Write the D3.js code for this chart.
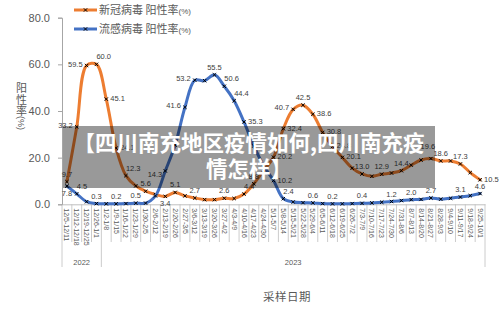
<!DOCTYPE html>
<html>
<head>
<meta charset="utf-8">
<script src="https://cdn.jsdelivr.net/npm/d3@7"></script>
<style>
body { margin: 0; background: #fff; }
svg { display: block; }
</style>
</head>
<body>
<script>
// weekly sampling periods (x categories)
var weeks = ['12/5-12/11', '12/12-12/18', '12/19-12/25', '12/26-1/1',
  '1/2-1/8', '1/9-1/15', '1/16-1/22', '1/23-1/29', '1/30-2/5',
  '2/6-2/12', '2/13-2/19', '2/20-2/26', '2/27-3/5',
  '3/6-3/12', '3/13-3/19', '3/20-3/26', '3/27-4/2',
  '4/3-4/9', '4/10-4/16', '4/17-4/23', '4/24-4/30',
  '5/1-5/7', '5/8-5/14', '5/15-5/21', '5/22-5/28', '5/29-6/4',
  '6/5-6/11', '6/12-6/18', '6/19-6/25', '6/26-7/2',
  '7/3-7/9', '7/10-7/16', '7/17-7/23', '7/24-7/30', '7/31-8/6',
  '8/7-8/13', '8/14-8/20', '8/21-8/27', '8/28-9/3',
  '9/4-9/10', '9/11-9/17', '9/18-9/24', '9/25-10/1'];
var years = ['2022', '2023'];
var yearWeeks = [4, 39];  // how many weeks fall under each year label

// positive rate (%)
var covid = [9.7, 33.2, 59.5, 60.0, 45.1, 24.1, 12.3, 7.9, 5.6, 4.2, 3.4, 5.1, 3.6, 2.7, 2.0, 2.0, 2.6, 2.5, 4.4, 8.8, 14.5,
  20.2, 32.4, 40.7, 42.5, 38.6, 30.8, 24.8, 20.1, 15.5, 13.0, 12.0, 12.9, 13.4, 14.4, 16.8, 19.0, 19.6, 18.6, 18.6, 17.3, 13.6, 10.5];
var flu = [7.8, 4.5, 1.1, 0.3, 0.2, 0.2, 0.3, 0.5, 0.5, 3.6, 14.3, 25.4, 41.6, 53.2, 53.0, 55.5, 50.6, 44.4, 35.3, 25.0, 16.5,
  10.2, 2.4, 1.0, 0.7, 0.6, 0.3, 0.2, 0.2, 0.3, 0.4, 0.6, 0.9, 1.2, 1.6, 2.0, 2.1, 2.7, 2.2, 2.6, 3.1, 3.7, 4.6];
var yTicks = [0, 20, 40, 60, 80];

// which points carry a value label, and on which side it sits
var covidLabels = {0: 'a', 1: 'l', 2: 'l', 3: 'ar', 4: 'r', 5: 'r', 6: 'ar', 8: 'a', 10: 'b', 11: 'a', 13: 'a', 16: 'a',
  18: 'ar', 19: 'a', 21: 'r', 22: 'r', 23: 'l', 24: 'a', 25: 'r', 26: 'r', 27: 'r', 28: 'r', 30: 'a', 32: 'a',
  34: 'a', 37: 'hi', 38: 'a', 40: 'a', 42: 'r'};
var fluLabels = {0: 'b', 1: 'ar', 3: 'a', 5: 'a', 7: 'a', 10: 'lb', 12: 'l', 13: 'l', 15: 'a', 16: 'ar', 17: 'ar', 18: 'r',
  21: 'r', 22: 'ar', 25: 'a', 27: 'a', 30: 'a', 33: 'a', 35: 'a', 37: 'a', 40: 'a', 42: 'a'};

var w = 500, h = 315;
var orange = '#ED7D31', blue = '#4472C4', grey = '#595959';
var latin = '"Liberation Sans", Arial, sans-serif';
var cjk = '"Noto Sans CJK SC", sans-serif';

var svg = d3.select('body').append('svg')
  .attr('width', w)
  .attr('height', h);

var x = d3.scaleBand().domain(weeks).range([62, 485]);
var y = d3.scaleLinear().domain([0, 80]).range([204.3, 17.7]);
var cx = function(i) { return x(weeks[i]) + x.bandwidth() / 2; };

// category separators under the axis, longer ones at year boundaries
var yearEdges = [0];
yearWeeks.forEach(function(n, k) { yearEdges.push(yearEdges[k] + n); });
svg.append('g').selectAll('line')
  .data(d3.range(weeks.length + 1))
  .enter().append('line')
  .attr('x1', function(i) { return 62 + i * x.step(); })
  .attr('x2', function(i) { return 62 + i * x.step(); })
  .attr('y1', y(0))
  .attr('y2', function(i) { return yearEdges.indexOf(i) >= 0 ? 267 : 242; })
  .attr('stroke', '#bfbfbf')
  .attr('stroke-width', 0.8);

// x axis with rotated week labels
var xAxis = svg.append('g')
  .attr('transform', 'translate(0,' + y(0) + ')')
  .call(d3.axisBottom(x).tickSize(0).tickPadding(0));
xAxis.select('.domain').attr('stroke', '#bfbfbf').attr('stroke-width', 1);
xAxis.selectAll('text')
  .attr('transform', 'rotate(90)')
  .attr('x', 4)
  .attr('y', 0)
  .attr('dy', '0.35em')
  .attr('text-anchor', 'start')
  .attr('font-family', latin)
  .attr('font-size', 7)
  .attr('fill', grey);

// year labels
svg.append('g').selectAll('text')
  .data(years)
  .enter().append('text')
  .attr('x', function(d, k) { return 62 + (yearEdges[k] + yearEdges[k + 1]) / 2 * x.step(); })
  .attr('y', 264.5)
  .attr('text-anchor', 'middle')
  .attr('font-family', latin)
  .attr('font-size', 7.5)
  .attr('fill', grey)
  .text(function(d) { return d; });

// y axis
var yAxis = svg.append('g')
  .attr('transform', 'translate(62,0)')
  .call(d3.axisLeft(y).tickValues(yTicks).tickFormat(d3.format('.1f')).tickSize(4).tickPadding(8));
yAxis.select('.domain').attr('stroke', '#a6a6a6');
yAxis.selectAll('line').attr('stroke', '#a6a6a6');
yAxis.selectAll('text')
  .attr('font-family', latin)
  .attr('font-size', 11)
  .attr('fill', grey);

// y axis title, stacked characters
var yt = svg.append('g').attr('fill', grey).attr('font-family', cjk).attr('font-size', 11).attr('text-anchor', 'middle');
['阳', '性', '率'].forEach(function(c, k) {
  yt.append('text').attr('x', 21.5).attr('y', 92 + k * 11.6).text(c);
});
yt.append('text')
  .attr('transform', 'translate(18,123) rotate(90)')
  .attr('font-family', latin)
  .attr('font-size', 9)
  .text('(%)');

// x axis title
svg.append('text')
  .attr('x', 287)
  .attr('y', 301)
  .attr('text-anchor', 'middle')
  .attr('font-family', cjk)
  .attr('font-size', 11.5)
  .attr('letter-spacing', 0.5)
  .attr('fill', grey)
  .text('采样日期');

// lines and markers
var line = d3.line()
  .x(function(d, i) { return cx(i); })
  .y(function(d) { return y(d); })
  .curve(d3.curveCatmullRom.alpha(0.5));

function cross(g, px, py) {
  var s = 1.7;
  g.append('path')
    .attr('d', 'M' + (px - s) + ',' + (py - s) + 'L' + (px + s) + ',' + (py + s) +
               'M' + (px - s) + ',' + (py + s) + 'L' + (px + s) + ',' + (py - s))
    .attr('stroke', '#000')
    .attr('stroke-width', 1);
}

function drawSeries(vals, color) {
  svg.append('path')
    .datum(vals)
    .attr('d', line)
    .attr('fill', 'none')
    .attr('stroke', color)
    .attr('stroke-width', 3)
    .attr('stroke-linecap', 'round');
  var g = svg.append('g');
  vals.forEach(function(v, i) { cross(g, cx(i), y(v)); });
}
drawSeries(covid, orange);
drawSeries(flu, blue);

// value labels
var place = {
  a: {anchor: 'middle', dx: 0, dy: -5},
  b: {anchor: 'middle', dx: 0, dy: 10},
  l: {anchor: 'end', dx: -4, dy: 1},
  r: {anchor: 'start', dx: 4, dy: 2},
  ar: {anchor: 'start', dx: 0, dy: -5},
  lb: {anchor: 'end', dx: -3, dy: 6},
  hi: {anchor: 'middle', dx: -3, dy: -10}
};
function drawLabels(vals, labels) {
  var idx = Object.keys(labels).map(Number);
  svg.append('g').selectAll('text')
    .data(idx)
    .enter().append('text')
    .attr('x', function(i) { return cx(i) + place[labels[i]].dx; })
    .attr('y', function(i) { return y(vals[i]) + place[labels[i]].dy; })
    .attr('text-anchor', function(i) { return place[labels[i]].anchor; })
    .attr('font-family', latin)
    .attr('font-size', 7.5)
    .attr('fill', '#404040')
    .text(function(i) { return vals[i].toFixed(1); });
}
drawLabels(covid, covidLabels);
drawLabels(flu, fluLabels);

// legend
var legend = [{name: '新冠病毒 阳性率', color: orange}, {name: '流感病毒 阳性率', color: blue}];
legend.forEach(function(d, k) {
  var ly = 10 + k * 19;
  svg.append('line')
    .attr('x1', 74).attr('x2', 97).attr('y1', ly).attr('y2', ly)
    .attr('stroke', d.color).attr('stroke-width', 3);
  cross(svg, 85.5, ly);
  var t = svg.append('text')
    .attr('x', 99)
    .attr('y', ly + 4)
    .attr('font-family', cjk)
    .attr('font-size', 11)
    .attr('fill', grey)
    .text(d.name);
  t.append('tspan').attr('font-family', latin).attr('font-size', 8).text('(%)');
});

// title banner over the chart
svg.append('rect')
  .attr('x', 63).attr('y', 126)
  .attr('width', 372).attr('height', 62)
  .attr('fill', 'rgba(0,0,0,0.4)');
var title = ['【四川南充地区疫情如何,四川南充疫', '情怎样】'];
svg.append('g').selectAll('text')
  .data(title)
  .enter().append('text')
  .attr('x', 249)
  .attr('y', function(d, k) { return 150.5 + k * 26.7; })
  .attr('text-anchor', 'middle')
  .attr('font-family', cjk)
  .attr('font-weight', 'bold')
  .attr('font-size', 21.5)
  .attr('fill', '#fff')
  .text(function(d) { return d; });
</script>
</body>
</html>
